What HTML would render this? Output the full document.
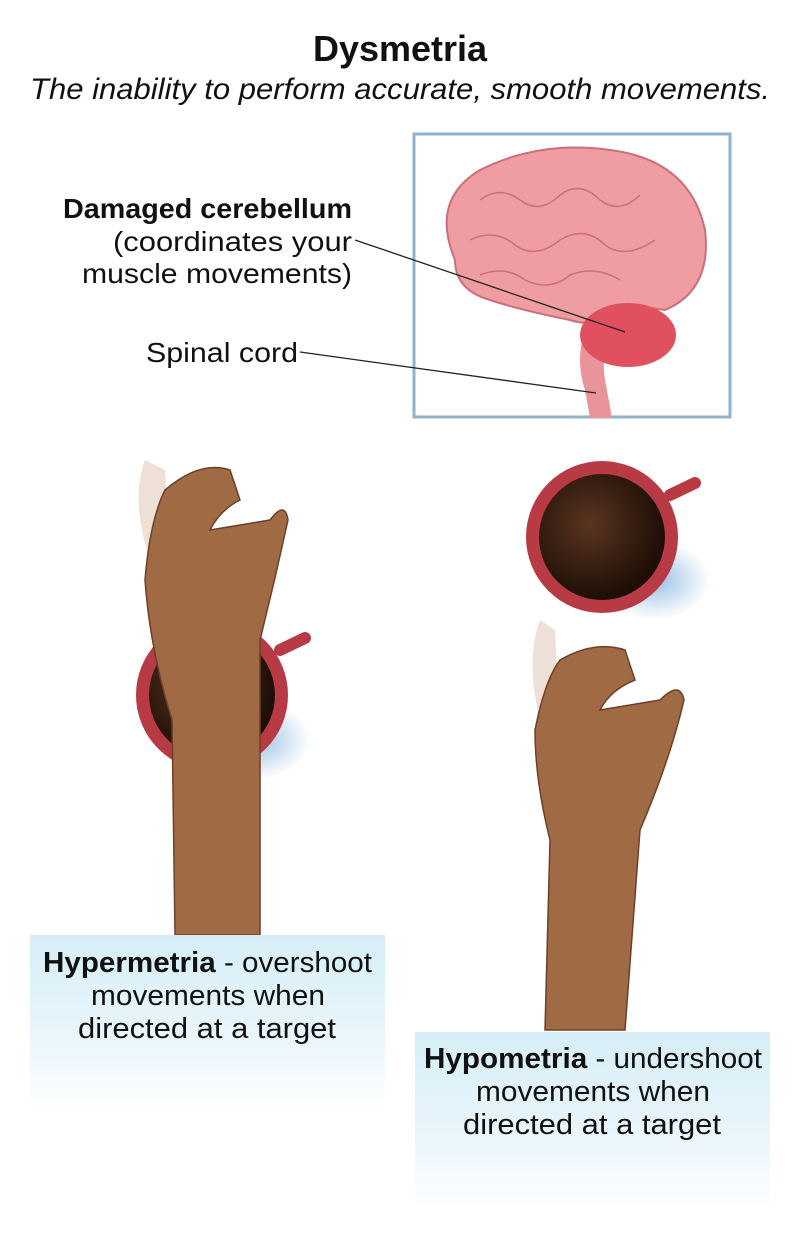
<!DOCTYPE html>
<html><head><meta charset="utf-8"><style>
body{margin:0;background:#fff;}
svg{display:block}
text{font-family:"Liberation Sans",sans-serif;fill:#111}
</style></head><body>
<svg width="800" height="1259" viewBox="0 0 800 1259">
<defs>
<linearGradient id="cap" x1="0" y1="0" x2="0" y2="1">
<stop offset="0" stop-color="#d6eef8"/><stop offset="0.6" stop-color="#eaf6fb"/><stop offset="1" stop-color="#ffffff"/>
</linearGradient>
<radialGradient id="cof" cx="0.4" cy="0.4" r="0.6">
<stop offset="0" stop-color="#5a3520"/><stop offset="1" stop-color="#1e0e06"/>
</radialGradient>
<radialGradient id="sh" cx="0.5" cy="0.5" r="0.5">
<stop offset="0" stop-color="#7fb0dc" stop-opacity="0.8"/><stop offset="1" stop-color="#7fb0dc" stop-opacity="0"/>
</radialGradient>
</defs>
<text x="313" y="61" font-size="36" font-weight="bold" textLength="174" lengthAdjust="spacingAndGlyphs">Dysmetria</text>
<text x="30" y="99" font-size="30" font-style="italic" textLength="740" lengthAdjust="spacingAndGlyphs">The inability to perform accurate, smooth movements.</text>

<rect x="414" y="134" width="316" height="283" fill="#fff" stroke="#8fb3cf" stroke-width="3"/>
<path d="M585 330 Q575 360 585 390 L590 418 L612 418 L606 385 Q600 360 610 335Z" fill="#e8949a"/>
<path d="M455 260 Q430 200 480 170 Q540 140 610 150 Q690 160 705 230 Q712 290 665 310 L630 305 Q600 330 570 320 Q520 310 490 300 Q455 290 455 260Z" fill="#ef9da2" stroke="#c9707a" stroke-width="2"/>
<ellipse cx="628" cy="335" rx="48" ry="32" fill="#e0505f"/>
<g stroke="#c9707a" stroke-width="1.5" fill="none">
<path d="M480 200 q20 -15 40 0 q20 15 40 -5 q20 -15 40 5 q20 15 40 -5"/>
<path d="M470 240 q25 -12 45 5 q20 15 45 -5 q25 -15 45 5 q20 15 50 -5"/>
<path d="M480 275 q25 -10 45 5 q25 12 45 -5 q25 -10 50 5"/>
</g>
<text x="63" y="218" font-size="28" font-weight="bold" textLength="289" lengthAdjust="spacingAndGlyphs">Damaged cerebellum</text>
<text x="113" y="251" font-size="28" textLength="239" lengthAdjust="spacingAndGlyphs">(coordinates your</text>
<text x="82" y="283" font-size="28" textLength="270" lengthAdjust="spacingAndGlyphs">muscle movements)</text>
<text x="146" y="362" font-size="28" textLength="152" lengthAdjust="spacingAndGlyphs">Spinal cord</text>
<line x1="355" y1="240" x2="625" y2="332" stroke="#222" stroke-width="1.3"/>
<line x1="300" y1="352" x2="596" y2="393" stroke="#222" stroke-width="1.3"/>

<!-- left -->
<ellipse cx="255" cy="740" rx="55" ry="40" fill="url(#sh)"/>
<path d="M280 650 L305 638" stroke="#b83a45" stroke-width="12" stroke-linecap="round"/>
<circle cx="212" cy="695" r="76" fill="#b83a45"/>
<circle cx="212" cy="695" r="63" fill="url(#cof)"/>
<path d="M145 460 Q130 500 150 560 L170 560 L165 470Z" fill="#ead8cc" opacity="0.8"/>
<path d="M175 935 L172 720 Q150 650 145 580 Q150 520 165 490 Q200 460 230 470 L240 500 Q220 510 210 530 L270 520 Q285 500 288 520 Q275 580 260 640 L260 935Z" fill="#a06a44" stroke="#6b4128" stroke-width="1.5"/>
<rect x="30" y="935" width="355" height="175" fill="url(#cap)"/>
<text x="43" y="972" font-size="29" textLength="329" lengthAdjust="spacingAndGlyphs"><tspan font-weight="bold">Hypermetria</tspan> - overshoot</text>
<text x="91" y="1005" font-size="29" textLength="234" lengthAdjust="spacingAndGlyphs">movements when</text>
<text x="78" y="1038" font-size="29" textLength="258" lengthAdjust="spacingAndGlyphs">directed at a target</text>

<!-- right -->
<ellipse cx="655" cy="580" rx="55" ry="40" fill="url(#sh)"/>
<path d="M670 495 L695 483" stroke="#b83a45" stroke-width="12" stroke-linecap="round"/>
<circle cx="602" cy="537" r="76" fill="#b83a45"/>
<circle cx="602" cy="537" r="63" fill="url(#cof)"/>
<path d="M540 620 Q525 660 540 720 L560 720 L555 630Z" fill="#ead8cc" opacity="0.8"/>
<path d="M545 1030 L550 840 Q535 780 535 730 Q545 680 560 660 Q595 640 625 650 L635 680 Q610 690 600 710 L660 700 Q680 680 684 700 Q670 760 640 830 L625 1030Z" fill="#a06a44" stroke="#6b4128" stroke-width="1.5"/>
<rect x="415" y="1032" width="355" height="178" fill="url(#cap)"/>
<text x="424" y="1068" font-size="29" textLength="338" lengthAdjust="spacingAndGlyphs"><tspan font-weight="bold">Hypometria</tspan> - undershoot</text>
<text x="476" y="1101" font-size="29" textLength="234" lengthAdjust="spacingAndGlyphs">movements when</text>
<text x="463" y="1134" font-size="29" textLength="258" lengthAdjust="spacingAndGlyphs">directed at a target</text>
</svg>
</body></html>
